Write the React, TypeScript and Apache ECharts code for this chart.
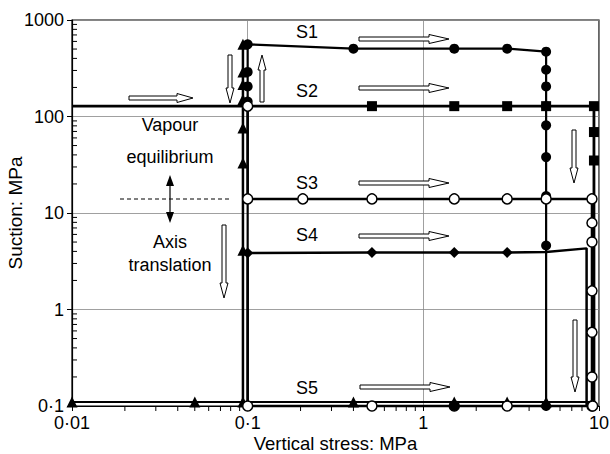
import React, { useEffect, useRef } from 'react';
import * as echarts from 'echarts';

// ---- data ----
const s1X = [0.1, 0.1, 0.1, 0.1, 0.1, 0.4, 1.5, 3, 5, 5, 5, 5, 5, 5, 5, 5, 5];
const s1Y = [0.1, 143, 205, 290, 560, 505, 505, 505, 470, 305, 205, 128, 81, 38, 15, 4.6, 0.1];
const s1NoMark = [0];

const s2X = [0.01, 0.51, 1.5, 3, 5, 9.36, 9.36, 9.36, 9.36];
const s2Y = [128, 128, 128, 128, 128, 128, 69, 35, 0.1];
const s2NoMark = [0, 8];

const s3X = [0.1, 0.1, 0.206, 0.51, 1.5, 3, 5, 9.12, 9.12, 9.12, 9.12, 9.12, 9.12, 9.12];
const s3Y = [128, 14, 14, 14, 14, 14, 14, 14, 7.9, 5.0, 1.56, 0.58, 0.2, 0.1];
const s3NoMark: number[] = [];

const s4X = [0.1, 0.1, 0.51, 1.5, 3, 5, 8.5, 8.5];
const s4Y = [0.1, 3.85, 3.9, 3.9, 3.9, 3.95, 4.3, 0.1];
const s4NoMark = [0, 5, 6, 7];

const s5X = [0.1, 0.51, 1.5, 3, 9.2];
const s5Y = [0.1, 0.1, 0.1, 0.1, 0.1];
const s5Filled = [2];

const tvX = [0.094, 0.094, 0.094, 0.094, 0.094, 0.094, 0.094, 0.094];
const tvY = [0.11, 4.1, 33, 76, 150, 215, 290, 560];
const tvNoMark = [0];

const tbX = [0.01, 0.05, 0.094, 0.4, 1.5, 3, 5, 9];
const tbY = [0.11, 0.11, 0.11, 0.11, 0.11, 0.11, 0.11, 0.11];
const tbNoMark = [7];

const xTickValues = [0.01, 0.1, 1, 10];
const xTickLabels = ['0·01', '0·1', '1', '10'];
const yTickValues = [0.1, 1, 10, 100, 1000];
const yTickLabels = ['0·1', '1', '10', '100', '1000'];
const minorMult = [2, 3, 4, 5, 6, 7, 8, 9];
const xDecades = [0.01, 0.1, 1];
const yDecades = [0.1, 1, 10, 100];

const FONT = '"Liberation Sans", Arial, Helvetica, sans-serif';

function labelFor(v: number, vals: number[], labels: string[]) {
  for (let i = 0; i < vals.length; i++) {
    if (Math.abs(Math.log10(v) - Math.log10(vals[i])) < 1e-6) return labels[i];
  }
  return '';
}

function buildData(xs: number[], ys: number[], noMark: number[], filled: number[] = []) {
  return xs.map((x, i) => {
    const item: any = { value: [x, ys[i]] };
    if (noMark.indexOf(i) >= 0) item.symbol = 'none';
    if (filled.indexOf(i) >= 0) item.itemStyle = { color: '#000', borderColor: '#000' };
    return item;
  });
}

function lineSeries(name: string, data: any[], symbol: string, size: number, open: boolean, lw: number, z: number) {
  return {
    name,
    type: 'line',
    data,
    symbol,
    symbolSize: size,
    showAllSymbol: true,
    clip: false,
    z,
    lineStyle: { color: '#000', width: lw },
    itemStyle: open
      ? { color: '#fff', borderColor: '#000', borderWidth: 1.5 }
      : { color: '#000', borderColor: '#000', borderWidth: 0 },
    emphasis: { disabled: true },
  };
}

function hArrow(x0: number, x1: number, y: number, hl = 20) {
  const h = 2, H = 4.5;
  return {
    type: 'polygon', z: 100,
    shape: { points: [[x0, y - h], [x1 - hl, y - h], [x1 - hl, y - H], [x1, y], [x1 - hl, y + H], [x1 - hl, y + h], [x0, y + h]] },
    style: { fill: '#fff', stroke: '#000', lineWidth: 1 },
  };
}

function vArrow(x: number, y0: number, y1: number, hl = 15) {
  const h = 2, H = 4;
  const d = y1 > y0 ? 1 : -1;
  const yb = y1 - d * hl;
  return {
    type: 'polygon', z: 100,
    shape: { points: [[x - h, y0], [x - h, yb], [x - H, yb], [x, y1], [x + H, yb], [x + h, yb], [x + h, y0]] },
    style: { fill: '#fff', stroke: '#000', lineWidth: 1 },
  };
}

function txt(text: string, x: number, y: number) {
  return {
    type: 'text', z: 100, x, y,
    style: { text, fill: '#000', fontSize: 18, fontFamily: FONT, align: 'center', verticalAlign: 'middle' },
  };
}

export default function App() {
  const ref = useRef<HTMLDivElement>(null);
  useEffect(() => {
    if (!ref.current) return;
    const chart = echarts.init(ref.current, undefined, { renderer: 'svg' });

    const yMinor: number[][] = [];
    yDecades.forEach((d) => minorMult.forEach((m) => yMinor.push([0.01, +(d * m).toPrecision(3)])));
    const xMinor: number[][] = [];
    xDecades.forEach((d) => minorMult.forEach((m) => xMinor.push([+(d * m).toPrecision(3), 0.1])));

    const option: any = {
      animation: false,
      backgroundColor: '#fff',
      textStyle: { fontFamily: FONT },
      grid: {
        left: 72, right: 11, top: 20, bottom: 48, containLabel: false, outerBoundsMode: 'none',
        show: true, borderColor: '#000', borderWidth: 1.2, backgroundColor: 'transparent',
      },
      xAxis: {
        type: 'log', logBase: 10, min: 0.01, max: 10,
        name: 'Vertical stress: MPa', nameLocation: 'middle', nameGap: 28, nameMoveOverlap: false,
        nameTextStyle: { color: '#000', fontSize: 18.5, fontFamily: FONT, lineHeight: 18 },
        axisLine: { show: true, lineStyle: { color: '#000', width: 1.2 } },
        axisTick: { show: true, inside: false, length: 5, lineStyle: { color: '#000' } },
        axisLabel: { color: '#000', fontSize: 18, fontFamily: FONT, margin: 8, formatter: (v: number) => labelFor(v, xTickValues, xTickLabels) },
        splitLine: { show: true, lineStyle: { color: '#888', width: 0.8 } },
      },
      yAxis: {
        type: 'log', logBase: 10, min: 0.1, max: 1000,
        name: 'Suction: MPa', nameLocation: 'middle', nameGap: 47, nameMoveOverlap: false,
        nameTextStyle: { color: '#000', fontSize: 19, fontFamily: FONT, lineHeight: 19 },
        axisLine: { show: true, lineStyle: { color: '#000', width: 1.2 } },
        axisTick: { show: true, inside: false, length: 5, lineStyle: { color: '#000' } },
        axisLabel: { color: '#000', fontSize: 18, fontFamily: FONT, margin: 8, formatter: (v: number) => labelFor(v, yTickValues, yTickLabels) },
        splitLine: { show: true, lineStyle: { color: '#888', width: 0.8 } },
      },
      series: [
        {
          type: 'custom', clip: false, silent: true, z: 1,
          data: yMinor,
          renderItem: (params: any, api: any) => {
            const p = api.coord([api.value(0), api.value(1)]);
            return { type: 'line', shape: { x1: p[0], y1: p[1], x2: p[0] + 5, y2: p[1] }, style: { stroke: '#000', lineWidth: 1 } };
          },
        },
        {
          type: 'custom', clip: false, silent: true, z: 1,
          data: xMinor,
          renderItem: (params: any, api: any) => {
            const p = api.coord([api.value(0), api.value(1)]);
            return { type: 'line', shape: { x1: p[0], y1: p[1], x2: p[0], y2: p[1] + 5 }, style: { stroke: '#000', lineWidth: 1 } };
          },
        },
        lineSeries('TB', buildData(tbX, tbY, tbNoMark), 'triangle', 11, false, 2, 3),
        lineSeries('TV', buildData(tvX, tvY, tvNoMark), 'triangle', 11, false, 2.5, 3),
        lineSeries('S4', buildData(s4X, s4Y, s4NoMark), 'diamond', 11, false, 2.5, 4),
        lineSeries('S2', buildData(s2X, s2Y, s2NoMark), 'rect', 10, false, 2.8, 5),
        lineSeries('S1', buildData(s1X, s1Y, s1NoMark), 'circle', 10, false, 2.2, 6),
        lineSeries('S3', buildData(s3X, s3Y, s3NoMark), 'circle', 10, true, 2.5, 7),
        lineSeries('S5', buildData(s5X, s5Y, [], s5Filled), 'circle', 10, true, 2.5, 8),
      ],
      graphic: [
        txt('S1', 307, 32),
        txt('S2', 307, 91),
        txt('S3', 307, 183),
        txt('S4', 307, 235),
        txt('S5', 307, 388),
        txt('Vapour', 170, 125),
        txt('equilibrium', 170, 157),
        txt('Axis', 170, 242),
        txt('translation', 170, 265),
        { type: 'line', z: 100, shape: { x1: 120, y1: 199, x2: 230, y2: 199 }, style: { stroke: '#000', lineWidth: 1, lineDash: [4, 3] } },
        { type: 'line', z: 100, shape: { x1: 170, y1: 185, x2: 170, y2: 214 }, style: { stroke: '#000', lineWidth: 1.2 } },
        { type: 'polygon', z: 100, shape: { points: [[170, 175], [166, 186], [174, 186]] }, style: { fill: '#000' } },
        { type: 'polygon', z: 100, shape: { points: [[170, 223], [166, 212], [174, 212]] }, style: { fill: '#000' } },
        hArrow(129, 193, 98, 16),
        hArrow(359, 449, 39),
        hArrow(359, 449, 88),
        hArrow(359, 449, 183),
        hArrow(359, 449, 236),
        hArrow(360, 450, 387),
        vArrow(230, 55, 103),
        vArrow(262, 102, 55),
        vArrow(224, 225, 298),
        vArrow(574, 130, 183),
        vArrow(575, 320, 392),
      ],
    };
    chart.setOption(option);
    return () => chart.dispose();
  }, []);
  return <div ref={ref} style={{ position: 'fixed', left: 0, top: 0, width: 610, height: 454, background: '#fff' }} />;
}
